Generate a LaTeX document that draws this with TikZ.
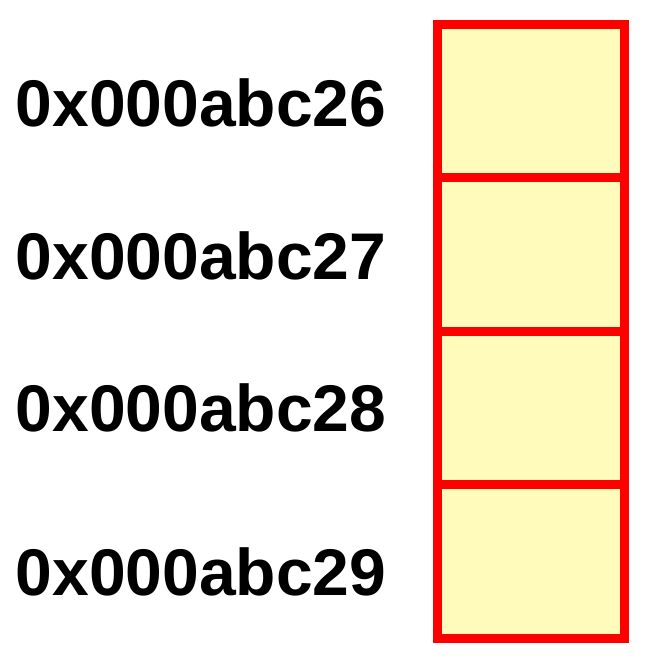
\documentclass[tikz,border=0pt]{standalone}
\usepackage{fontspec}
\setmainfont{Liberation Sans}
\definecolor{cellfill}{RGB}{254,251,187}
\definecolor{cellred}{RGB}{255,0,0}
\begin{document}
\begin{tikzpicture}[x=1pt,y=1pt,
  addr/.style={anchor=base west,inner sep=0pt,font=\fontsize{66}{66}\selectfont\bfseries},
  cell/.style={draw=cellred,fill=cellfill,line width=9pt,minimum width=187pt,minimum height=153.5pt,inner sep=0pt,outer sep=0pt,anchor=north west}]
\useasboundingbox (0,0) rectangle (647,670);
\node[cell] (c1) at (437.5,645.5) {};
\node[cell] (c2) at (437.5,492) {};
\node[cell] (c3) at (437.5,338.5) {};
\node[cell] (c4) at (437.5,185) {};
\node[addr] (a1) at (15.5,543) {0x000abc26};
\node[addr] (a2) at (15.5,390) {0x000abc27};
\node[addr] (a3) at (15.5,238) {0x000abc28};
\node[addr] (a4) at (15.5,74) {0x000abc29};
\end{tikzpicture}
\end{document}
